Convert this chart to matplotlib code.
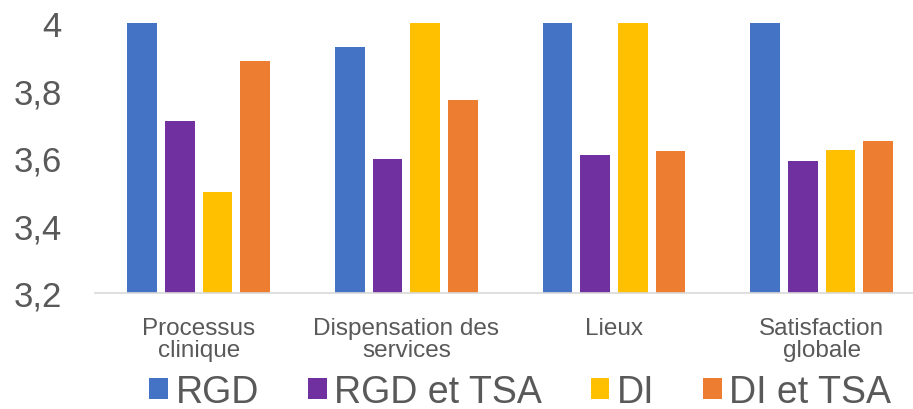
import matplotlib.pyplot as plt
import numpy as np

categories = ["Processus\nclinique", "Dispensation des\nservices", "Lieux", "Satisfaction\nglobale"]
series_names = ["RGD", "RGD et TSA", "DI", "DI et TSA"]
rgd = [4.0, 3.93, 4.0, 4.0]
rgd_tsa = [3.71, 3.598, 3.609, 3.591]
di = [3.5, 4.0, 4.0, 3.625]
di_tsa = [3.888, 3.772, 3.62, 3.65]
y_ticks = [3.2, 3.4, 3.6, 3.8, 4.0]
y_labels = ["3,2", "3,4", "3,6", "3,8", "4"]

colors = ["#4472c4", "#7030a0", "#ffc000", "#ed7d31"]

plt.rcParams['font.family'] = ['Liberation Sans', 'DejaVu Sans']

fig = plt.figure(figsize=(9.13, 4.10), dpi=100)
ax = fig.add_axes([0.104, 0.283, 0.896, 0.6585])

x = np.arange(len(categories))
step = 0.1814
width = 0.1425
for i, (name, vals) in enumerate(zip(series_names, [rgd, rgd_tsa, di, di_tsa])):
    ax.bar(x + (i - 1.5) * step, np.array(vals) - 3.2, width, bottom=3.2,
           color=colors[i], label=name)

ax.set_ylim(3.2, 4.0)
ax.set_xlim(-0.5, 3.44)
ax.set_yticks(y_ticks)
ax.set_yticklabels(y_labels, fontsize=25, color="#595959")
ax.set_xticks(x)
ax.set_xticklabels(categories, fontsize=17.5, color="#595959", linespacing=1.05)
ax.tick_params(axis="both", length=0)
ax.tick_params(axis="x", pad=17)
ax.tick_params(axis="y", pad=24)
for s in ["top", "right", "left"]:
    ax.spines[s].set_visible(False)
ax.spines["bottom"].set_color("#d9d9d9")
ax.spines["bottom"].set_linewidth(1.2)

fig.legend(loc="lower center", bbox_to_anchor=(0.57, -0.085), ncol=4, frameon=False,
           fontsize=27, handlelength=0.5, handleheight=0.5, handletextpad=0.2,
           columnspacing=1.3, labelcolor="#595959")

fig.savefig("out.png", dpi=100)
